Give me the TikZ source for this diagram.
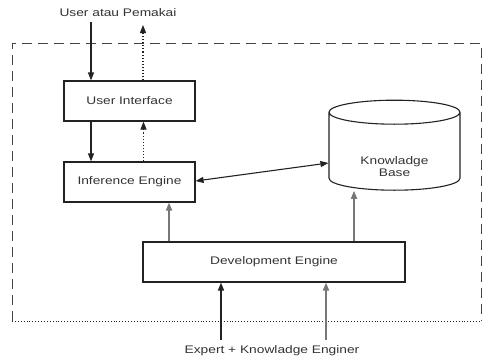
\documentclass[tikz,border=0pt]{standalone}
\usepackage{fontspec}
\setmainfont[FakeStretch=1.25]{Liberation Sans}
\usetikzlibrary{arrows.meta, positioning, calc, shapes.geometric}

\definecolor{ink}{HTML}{222222}
\definecolor{txt}{HTML}{333333}
\definecolor{grayarrow}{HTML}{777777}

\begin{document}
\begin{tikzpicture}[x=1pt, y=-1pt,
  box/.style={draw=ink, line width=1.1pt, minimum width=131pt, minimum height=40pt,
    font=\fontsize{11}{12}\selectfont, text=txt, inner sep=0pt},
  lbl/.style={font=\fontsize{11}{12}\selectfont, text=txt, inner sep=0pt},
  arr/.style={ink, line width=1.1pt, -{Triangle[length=8pt, width=6pt]}},
  darr/.style={arr, dotted},
  garr/.style={grayarrow, line width=1.6pt, -{Triangle[length=8pt, width=6pt]}},
]
\useasboundingbox (0,0) rectangle (482,362);

% system frame
\draw[ink!85, line width=1pt, dash pattern=on 10pt off 6pt] (12,321) -- (12,43) -- (481,43) -- (481,321);
\draw[ink, line width=0.9pt, dotted] (12,321) -- (481,321);

\node[box] (ui) at (129.5,101) {User Interface};
\node[box] (ie) at (129.5,182) {Inference Engine};
\node[box, minimum width=262pt] (de) at (274,262) {Development Engine};
\node[cylinder, shape border rotate=90, aspect=0.3, draw=ink, line width=1.1pt,
  minimum width=131pt, minimum height=90pt, inner xsep=40pt] (kb) at (394.5,157) {};
\node[lbl, align=center] (kbtext) at ([yshift=-10pt]kb.center) {Knowladge\\Base};

\node[lbl] (user) at (118,13) {User atau Pemakai};
\node[lbl] (expert) at (272,351) {Expert + Knowladge Enginer};

\coordinate (uin) at (91,22);
\coordinate (uout) at (143,25);
\coordinate (ein1) at (221,340);
\coordinate (ein2) at (326,340);

% user side
\draw[arr] (uin) -- (uin |- ui.north);
\draw[darr] (uout |- ui.north) -- (uout);
\draw[arr] ([xshift=-38.5pt]ui.south) -- ([xshift=-38.5pt]ie.north);
\draw[darr] ([xshift=14pt]ie.north) -- ([xshift=14pt]ui.south);

% knowledge base link
\draw[arr, {Triangle[length=8pt, width=6pt]}-{Triangle[length=8pt, width=6pt]}] ([yshift=1pt]ie.east) -- ([yshift=-6pt]kb.west);

% development engine
\draw[garr] ([xshift=-105pt]de.north) -- ([xshift=-105pt]de.north |- ie.south);
\draw[garr] ([xshift=80pt]de.north) -- ([xshift=80pt]de.north |- kb.south);
\draw[arr, line width=1.4pt] (ein1) -- (ein1 |- de.south);
\draw[garr] (ein2) -- (ein2 |- de.south);
\end{tikzpicture}
\end{document}
